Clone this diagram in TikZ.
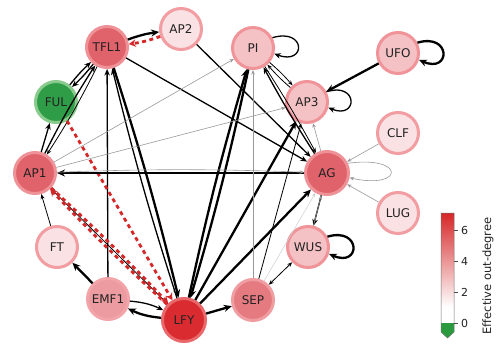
\documentclass[tikz,border=0pt]{standalone}
\usepackage{fontspec}
\setmainfont{DejaVu Sans}
\usetikzlibrary{arrows.meta}
\definecolor{cLFY}{HTML}{D92B30}
\definecolor{rLFY}{HTML}{E9686C}
\definecolor{cHi}{HTML}{E0626A}
\definecolor{rHi}{HTML}{EE9297}
\definecolor{cSEP}{HTML}{E57A80}
\definecolor{rSEP}{HTML}{F09DA1}
\definecolor{cEMF}{HTML}{EC9CA0}
\definecolor{rEMF}{HTML}{F2A4A8}
\definecolor{cMid}{HTML}{F4C2C5}
\definecolor{rMid}{HTML}{F09499}
\definecolor{cLow}{HTML}{FAE2E4}
\definecolor{rLow}{HTML}{F29DA2}
\definecolor{cFUL}{HTML}{2F9C48}
\definecolor{rFUL}{HTML}{88CB8C}
\definecolor{dred}{HTML}{D62728}
\definecolor{cbmid}{HTML}{E97C80}
\definecolor{cbgreen}{HTML}{2A9A3E}
\definecolor{txt}{HTML}{222222}
\begin{document}
\begin{tikzpicture}[x=1pt,y=-1pt,
  gnode/.style={circle, minimum size=41pt, inner sep=0pt, line width=3pt,
    font=\fontsize{12}{14}\selectfont, text=txt},
  ethick/.style={line width=2.3pt, -{Stealth[length=8pt,width=7pt]}},
  emed/.style={line width=1.3pt, -{Stealth[length=6.5pt,width=5.5pt]}},
  ethin/.style={line width=0.8pt, -{Stealth[length=5pt,width=4pt]}},
  egray/.style={line width=0.6pt, draw=black!40, -{Stealth[length=4.5pt,width=3.5pt]}, color=black!40},
  elight/.style={line width=0.5pt, draw=black!20, -{Stealth[length=4pt,width=3pt]}, color=black!20},
  einh/.style={line width=2.8pt, draw=dred, color=dred, dash pattern=on 4pt off 3.5pt, -{Stealth[length=7pt,width=7.5pt]}},
  ticklab/.style={font=\fontsize{11}{13}\selectfont, anchor=west, inner sep=0pt, text=txt}
]
\useasboundingbox (0,0) rectangle (498,343);

% nodes
\node[gnode, fill=cHi,  draw=rHi]  (TFL1) at (107,47)  {TFL1};
\node[gnode, fill=cLow, draw=rLow] (AP2)  at (181,29)  {AP2};
\node[gnode, fill=cMid, draw=rMid] (PI)   at (253,48)  {PI};
\node[gnode, fill=cMid, draw=rMid] (UFO)  at (398,53)  {UFO};
\node[gnode, fill=cMid, draw=rMid] (AP3)  at (307,102) {AP3};
\node[gnode, fill=cLow, draw=rLow] (CLF)  at (398,133) {CLF};
\node[gnode, fill=cHi,  draw=rHi, minimum size=43pt]  (AG)   at (327,173) {AG};
\node[gnode, fill=cLow, draw=rLow] (LUG)  at (398,213) {LUG};
\node[gnode, fill=cMid, draw=rMid] (WUS)  at (308,247) {WUS};
\node[gnode, fill=cSEP, draw=rSEP] (SEP)  at (253,300) {SEP};
\node[gnode, fill=cLFY, draw=rLFY, minimum size=43pt] (LFY)  at (184,320) {LFY};
\node[gnode, fill=cEMF, draw=rEMF] (EMF1) at (108,299) {EMF1};
\node[gnode, fill=cLow, draw=rLow] (FT)   at (57,247)  {FT};
\node[gnode, fill=cHi,  draw=rHi]  (AP1)  at (35,173)  {AP1};
\node[gnode, fill=cFUL, draw=rFUL] (FUL)  at (56,102)  {FUL};

% edges around TFL1
\draw[ethick] (TFL1) to[bend left=6] (AP2);
\draw[einh]   (AP2) to[bend left=6] (TFL1);
\draw[emed]   (TFL1) to[bend left=4] (FUL);
\draw[emed]   (FUL) to[bend left=4] (TFL1);
\draw[emed]   (AP1) to[bend left=3] (TFL1);
\draw[ethin]  (TFL1) to[bend left=3] (AP1);
\draw[emed]   (AP1) -- (FUL);
\draw[emed]   (TFL1) -- (AG);
\draw[emed]   (AP2) -- (AG);
\draw[emed]   (EMF1) -- (TFL1);
\draw[ethick] (TFL1) to[bend left=2] (LFY);
\draw[emed]   (LFY) to[bend left=2] (TFL1);

% edges from LFY
\draw[ethick] (LFY) to[bend left=2] (PI);
\draw[ethick] (PI) to[bend left=2] (LFY);
\draw[ethick] (LFY) -- (AP3);
\draw[ethick] (LFY) -- (AG);
\draw[ethick] (LFY) -- (SEP);
\draw[ethick] (LFY) to[bend left=10] (EMF1);
\draw[emed]   (EMF1) to[bend left=10] (LFY);
\draw[ethin]  (LFY) -- (AP1);
\draw[einh]   (AP1) to[bend left=2] (LFY);
\draw[einh]   (LFY) to[bend left=2] (AP1);
\draw[einh]   (FUL) -- (LFY);

% edges around AP1
\draw[ethick] (AG) -- (AP1);
\draw[egray]  (AP1) to[bend left=2] (AG);
\draw[egray]  (AP1) -- (PI);
\draw[egray]  (AP1) -- (AP3);
\draw[ethin]  (FT) -- (AP1);
\draw[ethick] (EMF1) -- (FT);

% right part
\draw[ethick] (UFO) -- (AP3);
\draw[ethin]  (PI) to[bend left=4] (AP3);
\draw[ethin]  (AP3) to[bend left=4] (PI);
\draw[emed]   (AG) to[bend left=2] (PI);
\draw[ethin]  (PI) to[bend left=2] (AG);
\draw[egray]  (AG) -- (AP3);
\draw[egray]  (CLF) -- (AG);
\draw[egray]  (LUG) -- (AG);
\draw[emed]   (AG) -- (WUS);
\draw[egray]  (WUS) -- (AG);
\draw[ethin, {Stealth[length=5pt,width=4pt]}-{Stealth[length=5pt,width=4pt]}] (SEP) -- (WUS);
\draw[egray, line width=0.8pt]  (SEP) -- (PI);
\draw[ethin]  (SEP) -- (AP3);
\draw[elight] (SEP) -- (AG);

% self loops
\draw[emed]   (PI.28) .. controls +(34,-10) and +(32,12) .. (PI.-15);
\draw[emed]   (AP3.28) .. controls +(32,-10) and +(30,12) .. (AP3.-15);
\draw[ethick] (UFO.28) .. controls +(34,-10) and +(32,14) .. (UFO.-18);
\draw[ethick] (WUS.28) .. controls +(34,-10) and +(32,14) .. (WUS.-18);
\draw[egray]  (AG.25) .. controls +(58,-8) and +(55,12) .. (AG.-12);

% colour bar
\shade[top color=dred, middle color=cbmid, bottom color=white] (441,213) rectangle (454,307);
\fill[white] (441,307) rectangle (454,323);
\fill[cbgreen] (441,323) -- (454,323) -- (454,332) -- (447.5,338) -- (441,332) -- cycle;
\draw[black!55, line width=0.5pt] (441,213) -- (454,213) -- (454,332) -- (447.5,338) -- (441,332) -- cycle;
\foreach \v/\yy in {6/230,4/261,2/292,0/323} {
  \draw[black!70, line width=0.6pt] (454,\yy) -- (458,\yy);
  \node[ticklab] (t\v) at (461,\yy) {\v};
}
\node[rotate=90, font=\fontsize{11.5}{13}\selectfont, inner sep=0pt, text=txt] (cblabel) at (488,276) {Effective out-degree};
\end{tikzpicture}
\end{document}
